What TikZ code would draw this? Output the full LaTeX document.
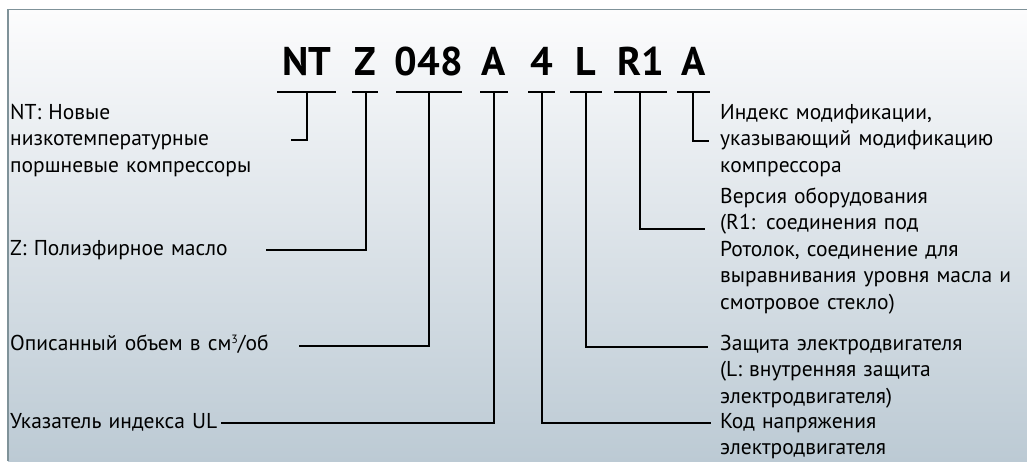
\documentclass[tikz,border=0pt]{standalone}
\usepackage{fontspec}
\setmainfont{PT Sans}
\definecolor{panelborder}{HTML}{7F9299}
\definecolor{paneltop}{HTML}{FCFCFD}
\definecolor{panelbottom}{HTML}{BCCAD4}
\begin{document}
\begin{tikzpicture}[x=1pt,y=-1pt,
  lbl/.style={inner sep=0pt,anchor=base west,font=\fontsize{21.5}{26.5}\selectfont,text width=305pt,align=left},
  hdr/.style={inner sep=0pt,anchor=base,font=\fontsize{40}{40}\selectfont\bfseries},
  conn/.style={line width=2.2pt,line cap=rect,line join=miter}]
\useasboundingbox (0,0) rectangle (1027,461);
\shade[top color=paneltop,bottom color=panelbottom] (8,9.5) rectangle (1027,461);
\draw[panelborder,line width=1.3pt] (8,461) -- (8,9.5) -- (1027,9.5);

% header
\node[hdr] (h1) at (307,75) {NT};
\node[hdr] (h2) at (365,75) {Z};
\node[hdr] (h3) at (429,75) {048};
\node[hdr] (h4) at (494,75) {A};
\node[hdr] (h5) at (541.5,75) {4};
\node[hdr] (h6) at (586,75) {L};
\node[hdr] (h7) at (640.5,75) {R1};
\node[hdr] (h8) at (693.5,75) {A};

% bars
\coordinate (b1l) at (277,92); \coordinate (b1r) at (336,92); \coordinate (b1m) at (307,92);
\coordinate (b2l) at (352,92); \coordinate (b2r) at (378,92); \coordinate (b2m) at (366,92);
\coordinate (b3l) at (396,92); \coordinate (b3r) at (462,92); \coordinate (b3m) at (429,92);
\coordinate (b4l) at (480,92); \coordinate (b4r) at (508,92); \coordinate (b4m) at (494,92);
\coordinate (b5l) at (528,92); \coordinate (b5r) at (555,92); \coordinate (b5m) at (542,92);
\coordinate (b6l) at (570,92); \coordinate (b6r) at (602,92); \coordinate (b6m) at (586,92);
\coordinate (b7l) at (614,92); \coordinate (b7r) at (667,92); \coordinate (b7m) at (640,92);
\coordinate (b8l) at (677,92); \coordinate (b8r) at (710,92); \coordinate (b8m) at (693,92);
\foreach \i in {1,...,8} {\draw[line width=2.2pt] (b\i l) -- (b\i r);}

% left labels
\node[lbl] (l1) at (10,119) {NT: Новые\\низкотемпературные\\поршневые компрессоры};
\node[lbl] (l2) at (10,255) {Z: Полиэфирное масло};
\node[lbl] (l3) at (10,350) {Описанный объем в см\raisebox{7pt}{\fontsize{12}{12}\selectfont 3}/об};
\node[lbl] (l4) at (10,428) {Указатель индекса UL};

% right labels
\node[lbl] (r1) at (720,119) {Индекс модификации,\\указывающий модификацию\\компрессора};
\node[lbl] (r2) at (720,203) {Версия оборудования\\(R1: соединения под\\Ротолок, соединение для\\выравнивания уровня масла и\\смотровое стекло)};
\node[lbl] (r3) at (720,350) {Защита электродвигателя\\(L: внутренняя защита\\электродвигателя)};
\node[lbl] (r4) at (720,428) {Код напряжения\\электродвигателя};

% connector ends
\coordinate (e1) at (292,140);
\coordinate (e2) at (267,250);
\coordinate (e3) at (300,346);
\coordinate (e4) at (222,423);
\coordinate (e5) at (710,423);
\coordinate (e6) at (707,347);
\coordinate (e7) at (704,229);
\coordinate (e8) at (708,141);

\foreach \i in {1,...,8} {\draw[conn] (b\i m) |- (e\i);}
\end{tikzpicture}
\end{document}
